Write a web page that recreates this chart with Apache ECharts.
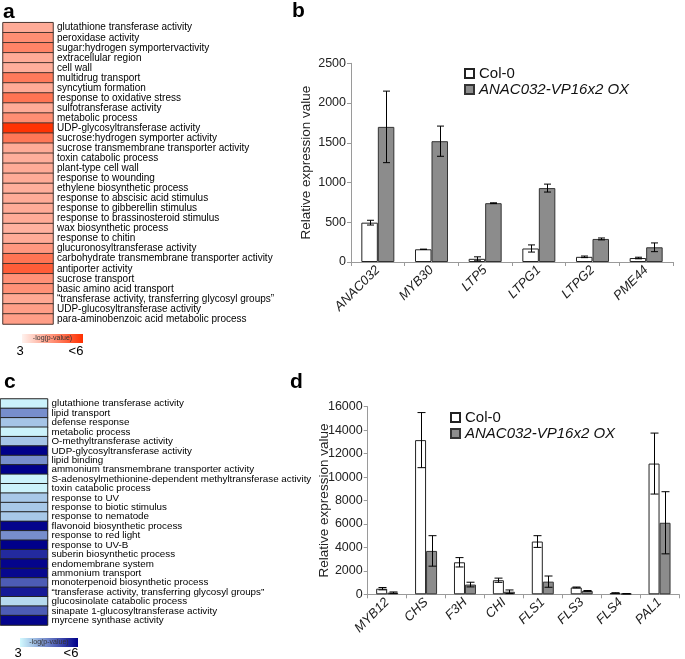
<!DOCTYPE html>
<html><head><meta charset="utf-8">
<script src="https://cdn.jsdelivr.net/npm/echarts@6/dist/echarts.min.js"></script>
<style>html,body{margin:0;padding:0;background:#fff}#c{width:685px;height:659px}</style>
</head><body><div id="c"></div>
<script>
// ---------- data ----------
const termsA = [
  'glutathione transferase activity','peroxidase activity','sugar:hydrogen symportervactivity',
  'extracellular region','cell wall','multidrug transport','syncytium formation',
  'response to oxidative stress','sulfotransferase activity','metabolic process',
  'UDP-glycosyltransferase activity','sucrose:hydrogen symporter activity',
  'sucrose transmembrane transporter activity','toxin catabolic process','plant-type cell wall',
  'response to wounding','ethylene biosynthetic process','response to abscisic acid stimulus',
  'response to gibberellin stimulus','response to brassinosteroid stimulus','wax biosynthetic process',
  'response to chitin','glucuronosyltransferase activity','carbohydrate transmembrane transporter activity',
  'antiporter activity','sucrose transport','basic amino acid transport',
  '\u201Ctransferase activity, transferring glycosyl groups\u201D','UDP-glucosyltransferase activity',
  'para-aminobenzoic acid metabolic process'
];
const valuesA = [4.1,4.55,4.7,4.1,4.05,4.85,4.1,4.95,4.1,4.55,5.95,4.9,4.1,4.05,4.1,
                 4.1,4.05,4.1,4.1,4.1,4.0,4.1,4.4,4.95,5.3,4.5,4.5,4.15,4.3,4.3];
const termsC = [
  'glutathione transferase activity','lipid transport','defense response','metabolic process',
  'O-methyltransferase activity','UDP-glycosyltransferase activity','lipid binding',
  'ammonium transmembrane transporter activity','S-adenosylmethionine-dependent methyltransferase activity',
  'toxin catabolic process','response to UV','response to biotic stimulus','response to nematode',
  'flavonoid biosynthetic process','response to red light','response to UV-B',
  'suberin biosynthetic process','endomembrane system','ammonium transport',
  'monoterpenoid biosynthetic process','\u201Ctransferase activity, transferring glycosyl groups\u201D',
  'glucosinolate catabolic process','sinapate 1-glucosyltransferase activity','myrcene synthase activity'
];
const valuesC = [3.1,4.3,3.65,3.1,3.65,6,4.3,6,3.1,3.1,3.6,3.6,3.6,5.95,4.3,6,5.5,5.95,5.9,4.9,5.7,3.4,4.9,5.95];
const colorScaleTicks = ['3','<6'];
const colorScaleName = '-log(p-value)';

const genesB = ['ANAC032','MYB30','LTP5','LTPG1','LTPG2','PME44'];
const colB    = [495,160,40,170,65,50];
const colBErr = [30,0,25,45,10,10];
const oxB     = [1700,1520,740,930,290,185];
const oxBErr  = [450,190,5,50,12,55];

const genesD = ['MYB12','CHS','F3H','CHI','FLS1','FLS3','FLS4','PAL1'];
const colD    = [480,13150,2730,1200,4500,580,110,11150];
const colDErr = [100,2350,400,180,500,40,20,2600];
const oxD     = [140,3700,830,220,1080,290,50,6100];
const oxDErr  = [60,1300,200,150,480,30,10,2650];

const seriesNames = ['Col-0','ANAC032-VP16x2 OX'];

// ---------- style ----------
const FONT = '"Liberation Sans", Arial, Helvetica, sans-serif';
const redRange = ['#fff2ee','#ff3000'];
const blueRange = ['#d2faff','#00008a'];

function errItems(vals, errs){ return vals.map((v,i)=>[i, v-errs[i], v+errs[i]]); }
function errRender(offset, cap){
  return function(params, api){
    const x = api.value(0), lo = api.value(1), hi = api.value(2);
    const pHi = api.coord([x, hi]), pLo = api.coord([x, lo]);
    const cx = Math.round(pHi[0] + offset) + 0.5;
    const st = {stroke:'#000', lineWidth:1};
    return {type:'group', children:[
      {type:'line', shape:{x1:cx,y1:pHi[1],x2:cx,y2:pLo[1]}, style:st},
      {type:'line', shape:{x1:cx-cap/2,y1:pHi[1],x2:cx+cap/2,y2:pHi[1]}, style:st},
      {type:'line', shape:{x1:cx-cap/2,y1:pLo[1],x2:cx+cap/2,y2:pLo[1]}, style:st}
    ]};
  };
}

const heatY = (terms, fs) => ({
  type:'category', data:terms, inverse:true, position:'right',
  axisLine:{show:false}, axisTick:{show:false}, splitLine:{show:false},
  axisLabel:{interval:0, margin:4, fontSize:fs, color:'#000', fontFamily:FONT}
});
const heatX = {type:'category', data:['v'], show:false};

const valX = (genes) => ({
  type:'category', data:genes,
  axisLine:{lineStyle:{color:'#9a9a9a'}},
  axisTick:{show:true, length:4, lineStyle:{color:'#9a9a9a'}},
  axisLabel:{rotate:45, fontStyle:'italic', fontSize:13, color:'#222', margin:6, fontFamily:FONT, interval:0}
});
const valY = (max, interval, gap) => ({
  type:'value', min:0, max:max, interval:interval,
  name:'Relative expression value', nameLocation:'middle', nameGap:gap, nameMoveOverlap:false,
  nameTextStyle:{fontSize:13.5, color:'#222', fontFamily:FONT},
  axisLine:{show:true, lineStyle:{color:'#9a9a9a'}},
  axisTick:{show:true, length:4, lineStyle:{color:'#9a9a9a'}},
  splitLine:{show:false},
  axisLabel:{fontSize:12.5, color:'#222', margin:5, fontFamily:FONT, formatter:v=>String(v)}
});

const colStyle = {color:'#ffffff', borderColor:'#222', borderWidth:1};
const oxStyle  = {color:'#8c8c8c', borderColor:'#333', borderWidth:1};

const legendData = [{name:seriesNames[0]}, {name:seriesNames[1], textStyle:{fontStyle:'italic'}}];
const mkLegend = (left, top) => ({
  data:legendData, orient:'vertical', left:left, top:top, itemWidth:9, itemHeight:9, itemGap:1,
  icon:'rect', selectedMode:false,
  textStyle:{fontSize:15, color:'#111', fontFamily:FONT}
});

function colorbar(x, y, w, h, range, tickY){
  return [
    {type:'rect', left:x, top:y, shape:{width:w, height:h},
     style:{fill:new echarts.graphic.LinearGradient(0,0,1,0,[{offset:0,color:range[0]},{offset:1,color:range[1]}])}},
    {type:'text', x:x+w/2, y:y+h/2, style:{text:colorScaleName, fontSize:7, fill:'#333', align:'center', verticalAlign:'middle', font:'7px '+FONT}},
    {type:'text', x:x-2, y:tickY, style:{text:colorScaleTicks[0], fill:'#000', align:'center', verticalAlign:'middle', font:'13px '+FONT}},
    {type:'text', x:x+w-7, y:tickY, style:{text:colorScaleTicks[1], fill:'#000', align:'center', verticalAlign:'middle', font:'13px '+FONT}}
  ];
}
const letter = (t, x, y) => ({type:'text', x:x, y:y, style:{text:t, fill:'#000', align:'left', verticalAlign:'bottom', font:'bold 21px '+FONT}});

const BW_B = 16.5, BW_D = 11;

const option = {
  animation:false,
  backgroundColor:'#fff',
  textStyle:{fontFamily:FONT},
  grid:[
    {left:3, top:22.7, width:50, height:301.3, outerBoundsMode:'none'},
    {left:351, top:63.3, width:322, height:198.7, outerBoundsMode:'none'},
    {left:0.5, top:399, width:47, height:226, outerBoundsMode:'none'},
    {left:367.7, top:406.7, width:311.3, height:187.6, outerBoundsMode:'none'}
  ],
  xAxis:[
    Object.assign({gridIndex:0}, heatX),
    Object.assign({gridIndex:1}, valX(genesB)),
    Object.assign({gridIndex:2}, heatX),
    Object.assign({gridIndex:3}, valX(genesD))
  ],
  yAxis:[
    Object.assign({gridIndex:0}, heatY(termsA, 10)),
    Object.assign({gridIndex:1}, valY(2500, 500, 38)),
    Object.assign({gridIndex:2}, heatY(termsC, 9.8)),
    Object.assign({gridIndex:3}, valY(16000, 2000, 36))
  ],
  visualMap:[
    {show:false, seriesIndex:0, dimension:2, min:3, max:6, inRange:{color:redRange}},
    {show:false, seriesIndex:1, dimension:2, min:3, max:6, inRange:{color:blueRange}}
  ],
  legend:[ mkLegend(459, 61), mkLegend(445, 405) ],
  series:[
    {type:'heatmap', xAxisIndex:0, yAxisIndex:0, data:valuesA.map((v,i)=>[0,i,v]),
     itemStyle:{borderColor:'#4a3630', borderWidth:1}},
    {type:'heatmap', xAxisIndex:2, yAxisIndex:2, data:valuesC.map((v,i)=>[0,i,v]),
     itemStyle:{borderColor:'#222', borderWidth:1}},
    {type:'bar', name:seriesNames[0], xAxisIndex:1, yAxisIndex:1, data:colB, barWidth:BW_B, barGap:'0%', itemStyle:colStyle},
    {type:'bar', name:seriesNames[1], xAxisIndex:1, yAxisIndex:1, data:oxB, barWidth:BW_B, barGap:'0%', itemStyle:oxStyle},
    {type:'custom', xAxisIndex:1, yAxisIndex:1, data:errItems(colB,colBErr), renderItem:errRender(-BW_B/2,7), encode:{x:0,y:[1,2]}, z:5},
    {type:'custom', xAxisIndex:1, yAxisIndex:1, data:errItems(oxB,oxBErr), renderItem:errRender(BW_B/2,7), encode:{x:0,y:[1,2]}, z:5},
    {type:'bar', name:seriesNames[0], xAxisIndex:3, yAxisIndex:3, data:colD, barWidth:BW_D, barGap:'0%', itemStyle:colStyle},
    {type:'bar', name:seriesNames[1], xAxisIndex:3, yAxisIndex:3, data:oxD, barWidth:BW_D, barGap:'0%', itemStyle:oxStyle},
    {type:'custom', xAxisIndex:3, yAxisIndex:3, data:errItems(colD,colDErr), renderItem:errRender(-BW_D/2,8), encode:{x:0,y:[1,2]}, z:5},
    {type:'custom', xAxisIndex:3, yAxisIndex:3, data:errItems(oxD,oxDErr), renderItem:errRender(BW_D/2,8), encode:{x:0,y:[1,2]}, z:5}
  ],
  graphic:[
    letter('a', 3, 23), letter('b', 292, 22), letter('c', 4, 393), letter('d', 290, 393)
  ].concat(colorbar(22, 334, 61, 9, redRange, 351)).concat(colorbar(20, 638, 58, 9, blueRange, 653.5))
};

const chart = echarts.init(document.getElementById('c'), null, {renderer:'canvas'});
chart.setOption(option);
</script></body></html>
